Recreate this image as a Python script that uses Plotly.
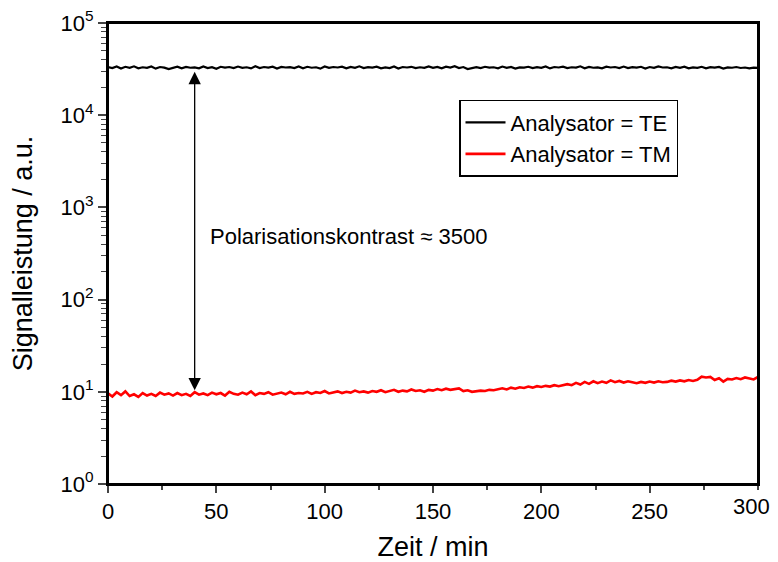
import plotly.graph_objects as go

# Zeit in Minuten (alle 2 min ein Messwert)
zeit = list(range(0, 301, 2))

# Analysator = TE
signal_te = [
    33200, 32400, 33800, 32100, 33500, 32700, 33900, 32300, 33100, 32600, 33700, 32000, 33300, 32800, 31600,
    32900, 33600, 32200, 33400, 32700, 33000, 32300, 33800, 32500, 33200, 31900, 33500, 32800, 33300, 32400,
    33700, 32600, 33100, 32200, 33900, 32500, 33300, 32800, 33600, 32100, 33400, 32900, 33200, 32400, 33700,
    32300, 33500, 32700, 33100, 32000, 33800, 32600, 33300, 32900, 33600, 32200, 33400, 32700, 33900, 32500,
    33200, 32800, 33600, 32300, 33000, 32500, 33700, 32100, 33300, 32900, 33500, 32400, 33100, 32700, 33800,
    32600, 33400, 32200, 33600, 32900, 34000, 32500, 33300, 31700, 32700, 33200, 32400, 33500, 32800, 33100,
    32300, 33700, 32600, 33400, 32100, 33000, 32800, 33500, 32400, 33200, 32700, 33800, 32200, 33300, 32900,
    33600, 32500, 33100, 32800, 33900, 32300, 33400, 32700, 33000, 32200, 33600, 32900, 33300, 32500, 33700,
    32400, 33200, 32800, 33500, 32100, 33300, 32600, 33800, 32900, 33100, 32300, 33400, 32700, 33600, 32200,
    33000, 32600, 33500, 32300, 33200, 32800, 33400, 32100, 33000, 32700, 33300, 32500, 32900, 32200, 32800,
    32600,
]

# Analysator = TM
signal_tm = [
    9.6, 8.9, 9.9, 9.2, 10.1, 9.0, 9.4, 8.8, 9.7, 9.1, 9.5, 9.0, 9.8, 9.3, 9.6,
    9.1, 9.7, 9.2, 9.5, 9.0, 9.9, 9.3, 9.6, 9.2, 9.8, 9.4, 9.7, 9.1, 10.0, 9.5,
    9.3, 9.8, 9.4, 10.1, 9.2, 9.7, 9.5, 9.9, 9.3, 9.6, 9.8, 9.4, 10.0, 9.5, 9.7,
    9.6, 10.0, 9.5, 9.9, 9.7, 10.2, 9.6, 9.8, 10.1, 9.7, 10.0, 9.8, 10.3, 9.9, 10.1,
    9.8, 10.2, 10.0, 10.4, 9.9, 10.1, 10.5, 10.0, 10.3, 10.1, 10.6, 10.2, 10.4, 10.0, 10.5,
    10.3, 10.7, 10.4, 10.8, 10.5, 10.6, 10.9, 10.2, 10.4, 10.0, 10.1, 10.3, 10.2, 10.5, 10.4,
    10.7, 10.9, 10.6, 11.1, 10.8, 11.2, 11.0, 11.4, 11.1, 11.5, 11.3, 11.6, 11.4, 11.8, 11.5,
    11.7, 12.1, 11.8, 12.5, 12.0, 12.8, 12.2, 13.0, 12.4, 12.9, 12.5, 13.3, 12.7, 13.1, 12.6,
    13.0, 12.7, 12.4, 12.8, 12.5, 12.9, 12.6, 13.0, 12.7, 12.8, 13.2, 12.9, 13.3, 13.0, 13.4,
    13.1, 13.5, 14.6, 14.3, 14.5, 13.4, 14.0, 12.9, 13.8, 13.6, 14.1, 13.7, 14.3, 13.9, 13.6,
    14.5,
]

x_tickvals = [0, 50, 100, 150, 200, 250]
y_tickvals = [1, 10, 100, 1000, 10000, 100000]
y_ticktext = ["10<sup>0</sup>", "10<sup>1</sup>", "10<sup>2</sup>",
              "10<sup>3</sup>", "10<sup>4</sup>", "10<sup>5</sup>"]
y_minor = [k * 10 ** d for d in range(5) for k in range(2, 10)]

schrift = "Arial, Liberation Sans, sans-serif"

fig = go.Figure()
fig.add_trace(go.Scatter(x=zeit, y=signal_te, mode="lines", name="Analysator = TE",
                         line=dict(color="black", width=2.2)))
fig.add_trace(go.Scatter(x=zeit, y=signal_tm, mode="lines", name="Analysator = TM",
                         line=dict(color="#ff0000", width=2.6)))

# Doppelpfeil Polarisationskontrast
fig.add_annotation(x=40, y=4.47, ax=40, ay=1.0, xref="x", yref="y", axref="x", ayref="y",
                   showarrow=True, arrowhead=2, startarrowhead=2, arrowside="end+start",
                   arrowsize=1.9, startarrowsize=1.9, arrowwidth=1.3, arrowcolor="black", text="")
fig.add_annotation(x=46, y=2.68, xref="x", yref="y", text="Polarisationskontrast \u2248 3500",
                   showarrow=False, xanchor="left", font=dict(size=22, color="black"))

# letzte x-Beschriftung etwas nach links, sonst am Rand abgeschnitten
fig.add_annotation(x=300, y=0, xref="x", yref="paper", text="300", showarrow=False,
                   xanchor="center", yanchor="top", xshift=-7, yshift=-8,
                   font=dict(size=22, color="black"))

# Rahmen um die Achsenfläche
fig.add_shape(type="rect", xref="paper", yref="paper", x0=0, x1=1, y0=0, y1=1,
              line=dict(color="black", width=2), layer="above")

# die Seite hat 8 px Rand, daher Figur etwas kleiner
fig.update_layout(
    width=762, height=554,
    margin=dict(l=100, r=12, t=15, b=78),
    paper_bgcolor="white", plot_bgcolor="white",
    font=dict(family=schrift, color="black", size=22),
    legend=dict(x=0.54, y=0.833, xanchor="left", yanchor="top",
                bordercolor="black", borderwidth=1.5, bgcolor="white",
                font=dict(size=22), tracegroupgap=0, itemwidth=40),
)
fig.update_xaxes(
    range=[0, 300], tickvals=x_tickvals, ticks="outside", ticklen=7, tickwidth=1.5,
    showline=True, linecolor="black", linewidth=2, mirror=True, showgrid=False, zeroline=False,
    minor=dict(ticks="outside", ticklen=4, dtick=25, tick0=0, tickwidth=1.5, showgrid=False),
    tickfont=dict(size=22), automargin=False, ticklabeloverflow="allow",
    title=dict(text="Zeit / min", font=dict(size=27), standoff=14),
)
fig.update_yaxes(
    type="log", range=[0, 5], tickvals=y_tickvals, ticktext=y_ticktext,
    ticks="outside", ticklen=8, tickwidth=1.5,
    showline=True, linecolor="black", linewidth=2, mirror=True, showgrid=False, zeroline=False,
    minor=dict(ticks="outside", ticklen=5, tickvals=y_minor, tickwidth=1.2, showgrid=False),
    tickfont=dict(size=22), automargin=False, ticklabeloverflow="allow",
    title=dict(text="Signalleistung / a.u.", font=dict(size=27), standoff=20),
)

fig.write_html("out.html")
